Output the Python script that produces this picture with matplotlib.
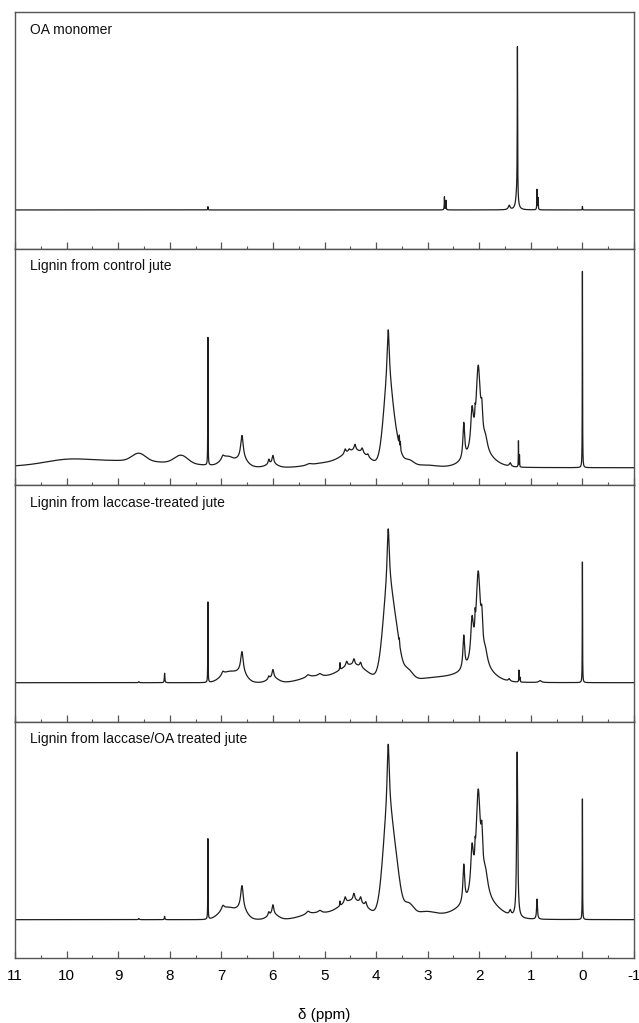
import numpy as np
import matplotlib
matplotlib.use("Agg")
import matplotlib.pyplot as plt
from matplotlib.ticker import MultipleLocator

plt.rcParams["font.family"] = ["Liberation Sans", "DejaVu Sans"]

# Panel titles, top to bottom
TITLES = ["OA monomer",
          "Lignin from control jute",
          "Lignin from laccase-treated jute",
          "Lignin from laccase/OA treated jute"]

# Where the zero line sits in each panel (fraction of panel height)
BASELINE = [0.163, 0.073, 0.164, 0.162]

# Sharp resonances (Lorentzian): (ppm, height, half-width)
# Broad envelopes (Gaussian): (ppm, height, sigma)
# Heights are in panel-height units.
SHARP_OA = [(7.26, 0.014, 0.004), (2.675, 0.055, 0.004), (2.645, 0.04, 0.004),
            (1.42, 0.018, 0.02), (1.27, 0.07, 0.025), (1.26, 0.63, 0.004),
            (0.88, 0.085, 0.004), (0.86, 0.05, 0.004), (0.0, 0.015, 0.003)]
BROAD_OA = []

SHARP_CONTROL = [(7.26, 0.54, 0.003), (6.97, 0.015, 0.03), (6.6, 0.10, 0.03),
                 (6.08, 0.02, 0.015), (6.0, 0.035, 0.02), (5.3, 0.006, 0.05),
                 (4.6, 0.02, 0.02), (4.52, 0.01, 0.02), (4.41, 0.025, 0.02),
                 (4.27, 0.02, 0.02), (4.16, 0.012, 0.02), (3.765, 0.22, 0.025),
                 (3.55, 0.04, 0.004), (3.53, 0.03, 0.004), (2.3, 0.15, 0.02),
                 (2.14, 0.16, 0.03), (2.08, 0.04, 0.006), (2.02, 0.36, 0.05),
                 (1.95, 0.10, 0.02), (1.88, 0.05, 0.05), (1.4, 0.015, 0.02),
                 (1.24, 0.11, 0.003), (1.22, 0.05, 0.003), (0.0, 0.83, 0.003)]
BROAD_CONTROL = [(9.0, 0.030, 1.2), (10.0, 0.015, 0.4), (8.6, 0.033, 0.13),
                 (7.78, 0.035, 0.13), (6.88, 0.04, 0.12), (6.6, 0.03, 0.1),
                 (6.02, 0.015, 0.1), (5.0, 0.018, 0.3), (4.4, 0.07, 0.25),
                 (3.765, 0.35, 0.09), (3.6, 0.08, 0.08), (3.38, 0.03, 0.1),
                 (3.05, 0.01, 0.2), (2.0, 0.05, 0.25)]

SHARP_LACCASE = [(8.6, 0.004, 0.01), (8.1, 0.04, 0.006), (7.26, 0.34, 0.003),
                 (6.97, 0.015, 0.03), (6.6, 0.09, 0.03), (6.08, 0.012, 0.015),
                 (6.0, 0.035, 0.02), (5.32, 0.01, 0.04), (5.09, 0.01, 0.04),
                 (4.7, 0.03, 0.005), (4.57, 0.02, 0.02), (4.43, 0.025, 0.02),
                 (4.3, 0.02, 0.02), (3.765, 0.24, 0.025), (3.55, 0.02, 0.004),
                 (2.3, 0.14, 0.02), (2.14, 0.165, 0.03), (2.08, 0.06, 0.006),
                 (2.02, 0.39, 0.05), (1.95, 0.12, 0.02), (1.88, 0.05, 0.05),
                 (1.42, 0.01, 0.02), (1.23, 0.05, 0.004), (1.21, 0.02, 0.004),
                 (0.82, 0.008, 0.03), (0.0, 0.51, 0.003)]
BROAD_LACCASE = [(6.85, 0.045, 0.15), (6.6, 0.03, 0.1), (6.0, 0.02, 0.1),
                 (5.2, 0.025, 0.25), (4.45, 0.075, 0.28), (3.765, 0.39, 0.1),
                 (3.6, 0.13, 0.08), (3.4, 0.05, 0.1), (3.0, 0.015, 0.3),
                 (2.45, 0.02, 0.3), (2.0, 0.05, 0.25)]

SHARP_LAC_OA = [(8.6, 0.005, 0.01), (8.1, 0.014, 0.006), (7.26, 0.34, 0.003),
                (6.97, 0.018, 0.03), (6.6, 0.10, 0.03), (6.08, 0.015, 0.015),
                (6.0, 0.04, 0.02), (5.32, 0.012, 0.04), (5.09, 0.01, 0.04),
                (4.7, 0.02, 0.005), (4.6, 0.025, 0.02), (4.43, 0.03, 0.02),
                (4.3, 0.025, 0.02), (4.2, 0.02, 0.02), (3.765, 0.28, 0.025),
                (2.3, 0.16, 0.02), (2.14, 0.18, 0.03), (2.08, 0.05, 0.006),
                (2.02, 0.44, 0.05), (1.95, 0.15, 0.02), (1.88, 0.09, 0.06),
                (1.4, 0.02, 0.02), (1.265, 0.70, 0.012), (0.88, 0.085, 0.01),
                (0.0, 0.51, 0.003)]
BROAD_LAC_OA = [(6.88, 0.05, 0.15), (6.6, 0.035, 0.1), (6.0, 0.022, 0.1),
                (5.2, 0.025, 0.25), (4.45, 0.08, 0.28), (3.765, 0.44, 0.1),
                (3.6, 0.14, 0.08), (3.38, 0.06, 0.1), (3.05, 0.03, 0.2),
                (2.45, 0.02, 0.3), (1.95, 0.07, 0.3)]

PANELS = [(SHARP_OA, BROAD_OA), (SHARP_CONTROL, BROAD_CONTROL),
          (SHARP_LACCASE, BROAD_LACCASE), (SHARP_LAC_OA, BROAD_LAC_OA)]


def build_spectrum(ppm, sharp, broad):
    y = np.zeros_like(ppm)
    for x0, h, w in sharp:
        y += h / (1.0 + ((ppm - x0) / w) ** 2)
    for x0, h, s in broad:
        y += h * np.exp(-0.5 * ((ppm - x0) / s) ** 2)
    return y


ppm = np.linspace(11, -1, 24001)

fig = plt.figure(figsize=(6.39, 10.23), dpi=100)
left, width = 15 / 639, 619 / 639
panel_h = 236.5 / 1023
bottom0 = 1 - 958 / 1023

axes = []
for i in range(4):
    b = bottom0 + (3 - i) * panel_h
    ax = fig.add_axes([left, b, width, panel_h])
    axes.append(ax)

for i, ax in enumerate(axes):
    sharp, broad = PANELS[i]
    spec = build_spectrum(ppm, sharp, broad)
    ax.plot(ppm, spec, color="#1e1e1e", linewidth=0.9)
    ax.set_xlim(11, -1)
    ax.set_ylim(-BASELINE[i], 1 - BASELINE[i])
    ax.set_yticks([])
    ax.xaxis.set_major_locator(MultipleLocator(1))
    ax.xaxis.set_minor_locator(MultipleLocator(0.5))
    ax.tick_params(axis="x", which="major", direction="in", length=5,
                   width=0.9, color="#555555", labelsize=11)
    ax.tick_params(axis="x", which="minor", direction="in", length=2.5,
                   width=0.8, color="#555555")
    for sp in ax.spines.values():
        sp.set_color("#555555")
        sp.set_linewidth(1.0)
    ax.text(0.024, 0.955, TITLES[i], transform=ax.transAxes,
            ha="left", va="top", fontsize=10, color="#111111")
    if i < 3:
        ax.tick_params(axis="x", labelbottom=False)

axes[-1].set_xticks(np.arange(11, -2, -1))
axes[-1].set_xticklabels([str(v) for v in range(11, -2, -1)])
axes[-1].tick_params(axis="x", pad=8)
axes[-1].set_xlabel("δ (ppm)", fontsize=11, labelpad=18)

fig.savefig("out.png", dpi=100)
